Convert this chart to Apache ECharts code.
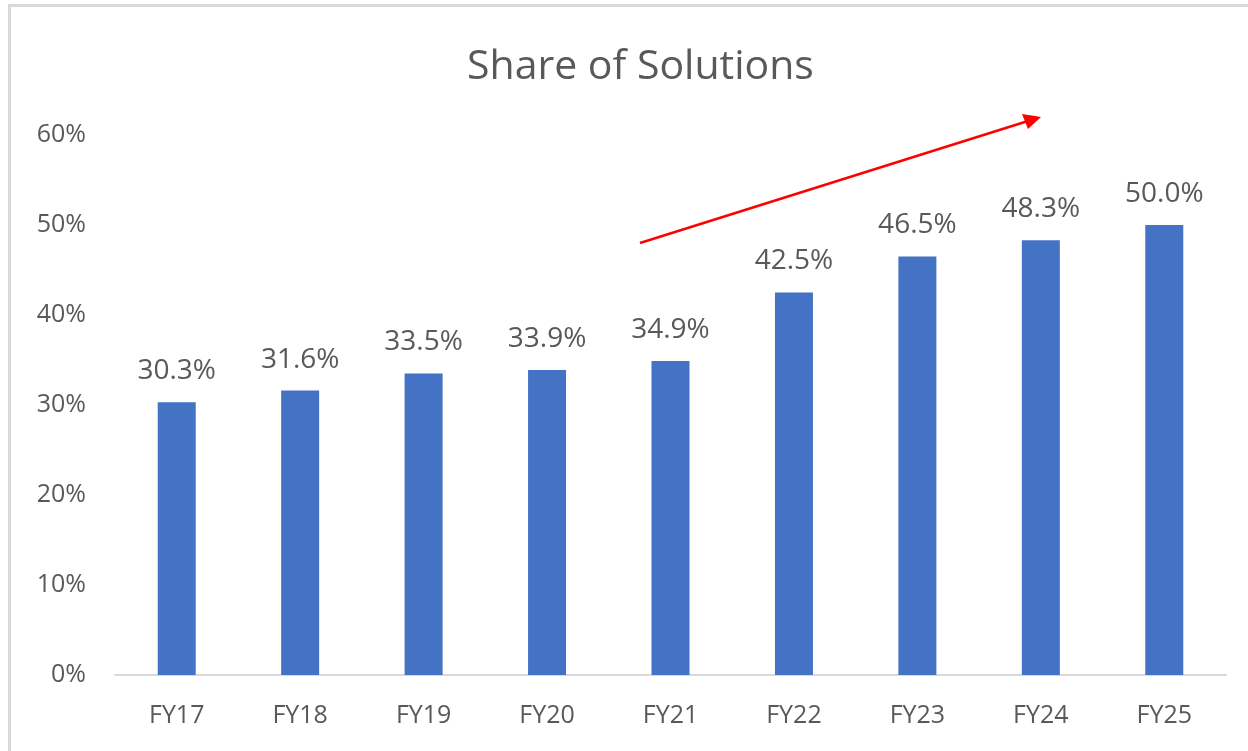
<!DOCTYPE html>
<html>
<head>
<meta charset="utf-8">
<script src="https://cdn.jsdelivr.net/npm/echarts@6/dist/echarts.min.js"></script>
<style>
html,body{margin:0;padding:0;background:#fff;}
#frame{position:absolute;left:8px;top:4px;width:1260px;height:760px;border-left:3px solid #d9d9d9;border-top:3px solid #d9d9d9;box-sizing:border-box;}
#chart{position:absolute;left:0;top:0;width:1248px;height:751px;}
</style>
</head>
<body>
<div id="frame"></div>
<div id="chart"></div>
<script>
// data
var years = ['FY17','FY18','FY19','FY20','FY21','FY22','FY23','FY24','FY25'];
var share = [30.3, 31.6, 33.5, 33.9, 34.9, 42.5, 46.5, 48.3, 50.0];

var font = 'Open Sans';
var grey = '#595959';

var myChart = echarts.init(document.getElementById('chart'));
var option = {
  animation: false,
  title: {
    text: 'Share of Solutions',
    left: 462,
    top: 42,
    textStyle: { fontFamily: font, fontSize: 41, fontWeight: 'normal', color: grey }
  },
  grid: { left: 115, right: 22, top: 135, bottom: 76 },
  xAxis: {
    type: 'category',
    data: years,
    axisLine: { lineStyle: { color: '#d9d9d9', width: 2 } },
    axisTick: { show: false },
    axisLabel: { fontFamily: font, fontSize: 25, color: grey, margin: 28 }
  },
  yAxis: {
    type: 'value',
    min: 0, max: 60, interval: 10,
    splitLine: { show: false },
    axisLine: { show: false },
    axisLabel: { fontFamily: font, fontSize: 25, color: grey, margin: 29, formatter: '{value}%' }
  },
  series: [{
    type: 'bar',
    data: share,
    barWidth: 38,
    itemStyle: { color: '#4472C4' },
    label: {
      show: true,
      position: 'top',
      distance: 17,
      fontFamily: font, fontSize: 28, color: grey,
      formatter: function (p) { return p.value.toFixed(1) + '%'; }
    }
  }],
  graphic: [{
    type: 'group',
    children: [
      { type: 'line', shape: { x1: 640, y1: 243, x2: 1028, y2: 121 }, style: { stroke: '#ff0000', lineWidth: 2.5 } },
      { type: 'polygon', shape: { points: [[1041, 117], [1022, 114], [1028, 129]] }, style: { fill: '#ff0000' } }
    ]
  }]
};
myChart.setOption(option);
</script>
</body>
</html>
